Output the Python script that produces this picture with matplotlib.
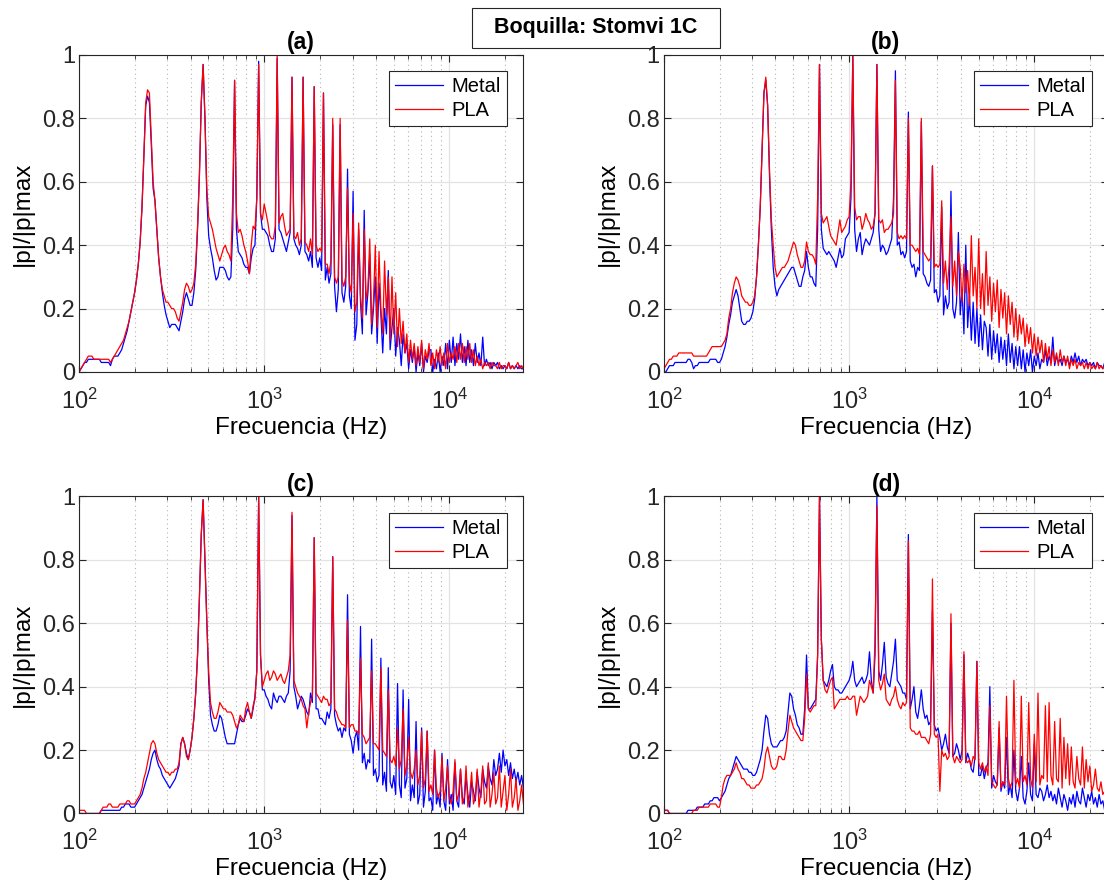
import matplotlib
matplotlib.use("Agg")
import matplotlib.pyplot as plt
import numpy as np
from matplotlib.patches import Rectangle


# frequency bins, 0.01 decade apart starting at 100 Hz
FREQ = np.logspace(2, 4.4, 241)

# |p|/|p|max in percent, one value per frequency bin
A_METAL = [
    0, 1, 2, 3, 3, 4, 4, 4, 4, 4,
    4, 4, 3, 3, 3, 3, 3, 2, 4, 5,
    5, 5, 6, 7, 9, 11, 13, 16, 19, 22,
    25, 29, 34, 41, 52, 68, 84, 87, 85, 72,
    58, 54, 45, 36, 30, 25, 21, 18, 16, 14,
    15, 15, 15, 14, 13, 16, 19, 23, 25, 23,
    21, 21, 25, 32, 45, 62, 85, 97, 80, 55,
    43, 39, 36, 32, 29, 30, 33, 33, 33, 32,
    30, 29, 30, 45, 92, 45, 38, 37, 36, 34,
    33, 33, 31, 36, 39, 40, 55, 98, 50, 45,
    45, 44, 43, 40, 38, 38, 42, 99, 45, 44,
    42, 40, 38, 41, 44, 93, 42, 40, 39, 37,
    40, 93, 38, 37, 35, 38, 33, 90, 36, 33,
    36, 32, 88, 29, 33, 28, 31, 78, 27, 19,
    26, 78, 25, 22, 27, 64, 24, 20, 57, 10,
    15, 45, 22, 12, 51, 18, 25, 37, 12, 20,
    30, 9, 28, 18, 6, 20, 12, 32, 7, 14,
    20, 5, 14, 10, 2, 12, 6, 9, 1, 7,
    3, 8, 0, 6, 2, 9, 0, 5, 3, 7,
    7, 0, 4, 1, 6, 0, 5, 2, 9, 1,
    10, 3, 11, 2, 9, 4, 12, 3, 8, 2,
    10, 3, 7, 2, 9, 3, 6, 2, 11, 2,
    4, 2, 3, 1, 3, 2, 3, 1, 2, 1,
    2, 1, 3, 1, 2, 1, 2, 1, 2, 1, 1,
]
A_PLA = [
    0, 1, 2, 3, 4, 5, 5, 5, 4, 4,
    4, 4, 4, 4, 4, 4, 4, 3, 4, 5,
    6, 7, 8, 9, 10, 12, 14, 16, 19, 22,
    25, 29, 34, 41, 52, 68, 85, 89, 88, 74,
    60, 54, 45, 36, 30, 26, 24, 22, 22, 21,
    20, 20, 19, 17, 16, 19, 22, 26, 28, 27,
    25, 26, 28, 34, 46, 62, 85, 97, 80, 58,
    49, 47, 45, 42, 39, 37, 35, 37, 39, 40,
    38, 37, 35, 55, 92, 50, 44, 45, 43, 40,
    38, 35, 31, 40, 46, 45, 55, 97, 50, 48,
    53, 50, 47, 43, 42, 42, 46, 100, 47, 49,
    50, 46, 43, 44, 45, 93, 43, 42, 44, 40,
    42, 93, 41, 40, 38, 42, 37, 90, 40, 38,
    39, 38, 88, 34, 34, 31, 35, 80, 30, 28,
    30, 80, 29, 27, 30, 58, 28, 25, 50, 19,
    22, 47, 24, 17, 45, 23, 26, 42, 15, 22,
    40, 14, 38, 20, 12, 35, 18, 30, 10, 30,
    12, 25, 8, 20, 9, 16, 6, 12, 3, 10,
    4, 9, 2, 8, 3, 10, 1, 7, 4, 9,
    2, 6, 1, 7, 3, 8, 2, 6, 1, 9,
    3, 6, 4, 8, 3, 9, 4, 9, 3, 8,
    4, 9, 3, 7, 2, 5, 2, 4, 1, 3,
    2, 3, 1, 3, 2, 2, 1, 3, 1, 2,
    2, 1, 3, 1, 2, 1, 2, 3, 1, 2, 1,
]
B_METAL = [
    0, 0, 1, 2, 2, 2, 3, 3, 3, 3,
    3, 3, 3, 4, 4, 3, 1, 2, 2, 3,
    3, 3, 3, 3, 3, 4, 4, 4, 4, 3,
    3, 4, 6, 8, 11, 15, 18, 22, 24, 26,
    24, 20, 16, 15, 15, 16, 16, 17, 19, 23,
    30, 40, 52, 70, 88, 92, 84, 62, 45, 33,
    27, 24, 26, 27, 28, 29, 30, 31, 32, 33,
    33, 31, 29, 27, 27, 30, 32, 38, 33, 30,
    30, 28, 27, 45, 97, 45, 39, 38, 37, 38,
    37, 36, 35, 33, 36, 39, 36, 37, 42, 43,
    44, 55, 100, 45, 38, 42, 44, 37, 40, 42,
    41, 40, 42, 44, 50, 97, 45, 38, 40, 39,
    37, 38, 40, 42, 55, 95, 40, 41, 37, 38,
    36, 38, 82, 35, 33, 34, 30, 33, 32, 79,
    31, 30, 28, 27, 29, 65, 25, 26, 22, 24,
    52, 18, 24, 20, 22, 57, 20, 17, 22, 44,
    18, 26, 12, 40, 14, 24, 10, 22, 9, 20,
    8, 18, 7, 16, 14, 5, 15, 4, 13, 6,
    12, 3, 11, 4, 10, 2, 12, 3, 9, 1,
    8, 2, 8, 1, 7, 0, 6, 2, 7, 0,
    5, 2, 6, 1, 4, 3, 7, 2, 5, 3,
    11, 2, 5, 3, 4, 2, 5, 3, 4, 2,
    5, 3, 6, 3, 5, 2, 4, 3, 4, 2,
    3, 2, 3, 1, 3, 2, 2, 1, 3, 1, 1,
]
B_PLA = [
    1, 2, 3, 4, 4, 5, 5, 5, 6, 6,
    6, 6, 6, 6, 6, 6, 5, 5, 5, 5,
    5, 5, 5, 5, 6, 7, 8, 8, 8, 8,
    8, 8, 9, 10, 12, 17, 20, 25, 28, 30,
    29, 27, 24, 23, 22, 22, 21, 21, 22, 24,
    30, 40, 52, 70, 88, 93, 84, 64, 48, 40,
    33, 30, 31, 32, 33, 33, 34, 35, 37, 39,
    41, 40, 37, 35, 33, 33, 35, 41, 38, 37,
    37, 36, 34, 55, 97, 50, 47, 48, 49, 46,
    43, 42, 41, 40, 44, 48, 44, 45, 46, 48,
    49, 60, 100, 52, 48, 49, 49, 45, 47, 50,
    48, 47, 45, 46, 50, 97, 48, 47, 48, 44,
    45, 45, 46, 47, 50, 92, 44, 42, 43, 42,
    43, 42, 80, 40, 40, 39, 38, 39, 37, 80,
    38, 37, 36, 35, 36, 65, 33, 34, 33, 34,
    54, 28, 35, 26, 34, 49, 27, 35, 24, 38,
    33, 22, 34, 25, 32, 21, 43, 24, 33, 20,
    42, 20, 31, 18, 38, 21, 30, 16, 28, 19,
    29, 14, 26, 17, 25, 12, 24, 15, 22, 11,
    20, 10, 18, 12, 17, 8, 15, 9, 14, 6,
    12, 5, 11, 6, 10, 3, 9, 4, 8, 2,
    7, 3, 6, 2, 7, 3, 5, 2, 5, 1,
    4, 2, 4, 1, 3, 2, 3, 1, 3, 1,
    3, 1, 2, 1, 3, 1, 2, 1, 2, 1, 1,
]
C_METAL = [
    0, 0, 0, 0, 0, 0, 0, 0, 0, 0,
    0, 0, 1, 1, 1, 1, 1, 1, 1, 1,
    1, 1, 1, 2, 2, 3, 3, 3, 2, 2,
    2, 3, 4, 5, 6, 8, 10, 12, 14, 17,
    19, 20, 17, 15, 14, 12, 11, 10, 9, 8,
    9, 10, 11, 13, 15, 22, 24, 22, 19, 17,
    20, 24, 30, 38, 50, 68, 88, 99, 80, 60,
    42, 31, 28, 26, 26, 28, 31, 30, 27, 24,
    22, 22, 22, 22, 22, 25, 28, 30, 29, 29,
    31, 33, 32, 30, 33, 37, 45, 100, 50, 39,
    39, 37, 36, 34, 33, 38, 36, 35, 37, 37,
    36, 35, 37, 38, 45, 94, 40, 37, 33, 35,
    37, 36, 34, 32, 31, 38, 35, 87, 33, 33,
    30, 30, 29, 28, 32, 30, 33, 81, 31, 28,
    26, 27, 24, 27, 26, 69, 25, 23, 19, 24,
    26, 20, 59, 16, 19, 14, 17, 16, 55, 12,
    14, 10, 12, 49, 9, 13, 7, 46, 10, 8,
    12, 6, 41, 9, 5, 39, 8, 11, 36, 4,
    9, 5, 29, 3, 6, 27, 2, 7, 26, 4,
    5, 1, 20, 3, 6, 2, 19, 4, 1, 17,
    3, 6, 1, 16, 4, 2, 14, 5, 3, 12,
    6, 2, 10, 7, 4, 13, 8, 5, 14, 10,
    8, 15, 11, 9, 17, 12, 14, 19, 13, 20,
    15, 17, 12, 16, 11, 14, 10, 13, 9, 12, 8,
]
C_PLA = [
    1, 1, 1, 1, 0, 0, 0, 0, 0, 0,
    0, 0, 1, 2, 2, 2, 3, 3, 2, 2,
    2, 2, 3, 3, 3, 3, 4, 4, 3, 3,
    3, 4, 5, 6, 8, 11, 13, 16, 19, 22,
    23, 22, 19, 17, 16, 15, 14, 13, 13, 12,
    13, 13, 14, 14, 16, 22, 24, 22, 18, 17,
    20, 24, 30, 38, 50, 68, 88, 99, 80, 60,
    45, 35, 32, 30, 30, 32, 35, 34, 33, 33,
    32, 32, 32, 31, 29, 27, 28, 31, 30, 29,
    33, 35, 32, 30, 34, 36, 45, 100, 50, 40,
    42, 44, 45, 42, 43, 45, 44, 42, 43, 44,
    42, 41, 43, 45, 50, 95, 42, 40, 38, 37,
    36, 34, 33, 27, 32, 35, 37, 87, 38, 37,
    36, 35, 37, 36, 36, 34, 35, 81, 33, 32,
    30, 29, 28, 28, 27, 61, 27, 28, 28, 26,
    26, 25, 49, 25, 24, 22, 23, 24, 45, 22,
    22, 21, 20, 46, 20, 19, 18, 39, 17, 16,
    18, 15, 27, 14, 17, 33, 12, 15, 24, 13,
    11, 14, 20, 9, 12, 26, 8, 11, 26, 7,
    9, 6, 20, 8, 5, 7, 18, 4, 8, 15,
    5, 3, 7, 17, 4, 6, 14, 3, 5, 15,
    2, 6, 13, 3, 5, 14, 2, 7, 15, 3,
    4, 16, 2, 6, 13, 3, 5, 15, 2, 7,
    12, 1, 6, 14, 2, 5, 11, 1, 4, 9, 3,
]
D_METAL = [
    1, 1, 1, 0, 0, 0, 0, 0, 0, 0,
    0, 0, 0, 1, 1, 1, 1, 1, 2, 2,
    2, 2, 3, 3, 3, 4, 4, 5, 5, 5,
    4, 5, 6, 7, 9, 11, 12, 14, 16, 18,
    17, 16, 15, 14, 14, 14, 13, 13, 12, 12,
    13, 15, 17, 20, 26, 31, 30, 25, 22, 21,
    21, 21, 22, 23, 23, 24, 26, 32, 38, 37,
    33, 31, 28, 27, 25, 25, 33, 50, 33, 33,
    34, 35, 36, 50, 100, 55, 42, 41, 40, 42,
    45, 47, 40, 39, 39, 38, 38, 39, 40, 41,
    42, 44, 48, 42, 40, 41, 42, 43, 41, 42,
    44, 51, 42, 38, 50, 100, 45, 42, 47, 54,
    43, 41, 40, 44, 48, 55, 42, 41, 40, 38,
    38, 36, 88, 33, 36, 40, 32, 30, 34, 39,
    33, 30, 31, 28, 29, 64, 28, 26, 27, 24,
    20, 22, 25, 21, 19, 60, 18, 19, 22, 20,
    17, 20, 50, 16, 19, 17, 14, 13, 18, 48,
    12, 12, 15, 11, 14, 16, 40, 8, 12, 10,
    9, 27, 7, 10, 8, 24, 6, 9, 5, 20,
    7, 4, 8, 18, 5, 3, 7, 16, 6, 4,
    22, 6, 5, 8, 7, 4, 6, 9, 5, 7,
    4, 6, 3, 8, 5, 2, 6, 4, 1, 5,
    3, 6, 2, 7, 4, 3, 8, 5, 2, 6,
    4, 7, 3, 5, 2, 6, 3, 4, 1, 2, 0,
]
D_PLA = [
    1, 1, 1, 0, 0, 0, 0, 0, 0, 0,
    0, 0, 0, 0, 0, 0, 1, 1, 1, 2,
    2, 2, 2, 2, 2, 3, 3, 3, 3, 2,
    2, 5, 9, 11, 12, 12, 12, 13, 14, 16,
    14, 13, 11, 11, 10, 9, 9, 8, 8, 8,
    9, 9, 10, 11, 14, 19, 21, 18, 15, 14,
    14, 15, 18, 18, 17, 17, 20, 26, 31, 29,
    27, 26, 25, 24, 23, 23, 30, 44, 33, 32,
    33, 34, 34, 50, 100, 55, 42, 39, 38, 40,
    42, 43, 33, 34, 35, 36, 36, 36, 36, 37,
    36, 36, 37, 37, 31, 34, 37, 36, 35, 36,
    37, 42, 40, 38, 55, 97, 42, 39, 41, 44,
    36, 35, 34, 36, 37, 40, 36, 34, 33, 35,
    34, 35, 86, 27, 26, 26, 25, 25, 26, 24,
    24, 24, 23, 22, 25, 74, 25, 24, 25, 7,
    20, 18, 19, 17, 18, 63, 18, 16, 18, 17,
    16, 17, 51, 17, 16, 17, 15, 18, 17, 48,
    16, 14, 16, 13, 15, 12, 34, 10, 9, 8,
    9, 29, 8, 10, 9, 37, 11, 8, 10, 42,
    9, 11, 8, 37, 10, 12, 9, 35, 11, 8,
    25, 10, 38, 9, 12, 11, 34, 10, 35, 12,
    9, 29, 11, 10, 30, 8, 24, 11, 22, 9,
    21, 10, 8, 18, 11, 9, 21, 8, 17, 10,
    15, 7, 9, 14, 8, 7, 10, 6, 7, 5, 4,
]

PANEL_TITLES = ["(a)", "(b)", "(c)", "(d)"]
METAL = [A_METAL, B_METAL, C_METAL, D_METAL]
PLA = [A_PLA, B_PLA, C_PLA, D_PLA]
Y_TICKS = [0, 0.2, 0.4, 0.6, 0.8, 1]
Y_TICKLABELS = ["0", "0.2", "0.4", "0.6", "0.8", "1"]
SUPTITLE = "Boquilla: Stomvi 1C"

plt.rcParams.update({
    "font.family": ["Liberation Sans", "DejaVu Sans"],
    "mathtext.fontset": "custom",
    "mathtext.rm": "Liberation Sans",
    "mathtext.it": "Liberation Sans:italic",
    "mathtext.bf": "Liberation Sans:bold",
    "axes.linewidth": 0.8,
    "axes.edgecolor": "#262626",
    "xtick.color": "#262626",
    "ytick.color": "#262626",
    "xtick.labelcolor": "#262626",
    "ytick.labelcolor": "#262626",
})

fig = plt.figure(figsize=(11.04, 8.85), dpi=100)

# axes boxes in figure fractions; right column runs past the figure edge
W, H = 0.4022, 0.3582
boxes = [
    [0.0716, 0.5797, W, H],
    [0.6014, 0.5797, W, H],
    [0.0716, 0.0808, W, H],
    [0.6014, 0.0808, W, H],
]

for box, title, metal, pla in zip(boxes, PANEL_TITLES, METAL, PLA):
    ax = fig.add_axes(box)
    ax.plot(FREQ, np.array(metal) / 100, color="#0000ff", lw=0.9, label="Metal")
    ax.plot(FREQ, np.array(pla) / 100, color="#ff0000", lw=0.9, label="PLA")
    ax.set_xscale("log")
    ax.set_xlim(100, 25000)
    ax.set_ylim(0, 1)
    ax.set_yticks(Y_TICKS)
    ax.set_yticklabels(Y_TICKLABELS)
    ax.tick_params(which="both", direction="in", top=True, right=True, labelsize=17)
    ax.tick_params(which="major", length=5, width=0.8)
    ax.tick_params(which="minor", length=3, width=0.6)
    ax.tick_params(axis="x", which="major", pad=12)
    ax.tick_params(axis="y", which="major", pad=3)
    ax.grid(which="major", color="#e3e3e3", lw=0.9)
    ax.grid(which="minor", axis="x", color="#b5b5b5", lw=0.8, ls=(0, (1, 3)))
    ax.set_axisbelow(True)
    ax.set_xlabel("Frecuencia (Hz)", fontsize=17.5, labelpad=2)
    ax.set_ylabel("|p|/|p|max", fontsize=17.5, labelpad=6)
    ax.set_title(title, fontsize=16.5, fontweight="bold", pad=4)
    leg = ax.legend(loc="upper right", fontsize=14.5, frameon=True, fancybox=False,
                    framealpha=1, edgecolor="#262626", borderaxespad=0.8,
                    handlelength=2.4, borderpad=0.3, labelspacing=0.25, handletextpad=0.4)
    leg.get_frame().set_linewidth(0.8)

fig.patches.append(Rectangle((472 / 1104, 1 - 48 / 885), 248 / 1104, 40 / 885,
                             transform=fig.transFigure, fill=False, ec="#262626", lw=0.8))
fig.text(596 / 1104, 1 - 28 / 885, SUPTITLE, ha="center", va="center",
         fontsize=15.5, fontweight="bold")

fig.savefig("out.png", dpi=100)
